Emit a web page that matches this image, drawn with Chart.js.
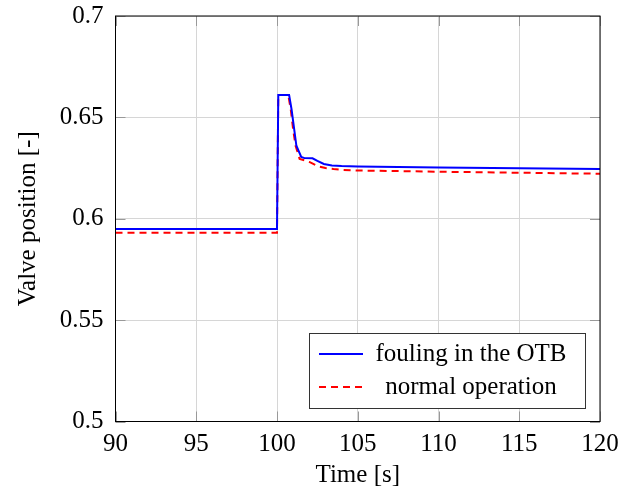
<!DOCTYPE html>
<html>
<head>
    <script src="https://cdn.jsdelivr.net/npm/chart.js"></script>
    <style>
        body { margin: 0; background: #fff; }
        #valveChart { display: block; }
    </style>
</head>
<body>
    <canvas id="valveChart" width="636" height="495"></canvas>
    <script>
        // datos
        const foulingT = [90, 100, 100.08, 100.75, 100.9, 101.0, 101.2, 101.5, 101.7, 102.2, 102.5, 102.9, 103.4, 104, 105, 110, 115, 120];
        const foulingY = [0.5949, 0.5949, 0.661, 0.661, 0.654, 0.648, 0.636, 0.6305, 0.6299, 0.6298, 0.6285, 0.627, 0.6263, 0.626, 0.6258, 0.6253, 0.6249, 0.6245];
        const normalT = [90, 100, 100.08, 100.7, 100.85, 101.0, 101.15, 101.4, 101.7, 102.0, 102.5, 103.0, 103.5, 104, 105, 110, 115, 120];
        const normalY = [0.5931, 0.5931, 0.661, 0.661, 0.654, 0.644, 0.636, 0.6295, 0.6288, 0.628, 0.626, 0.625, 0.6245, 0.6241, 0.6238, 0.6232, 0.6227, 0.6222];
        const seriesNames = ['fouling in the OTB', 'normal operation'];
        const xTickValues = [90, 95, 100, 105, 110, 115, 120];
        const xTickLabels = ['90', '95', '100', '105', '110', '115', '120'];
        const yTickValues = [0.5, 0.55, 0.6, 0.65, 0.7];
        const yTickLabels = ['0.5', '0.55', '0.6', '0.65', '0.7'];

        const serif = "'Liberation Serif', 'Times New Roman', serif";
        const toPoints = (t, y) => t.map((v, i) => ({ x: v, y: y[i] }));

        // marcas interiores de los ticks, caja del eje y leyenda
        const frameAndLegend = {
            id: 'frameAndLegend',
            beforeDatasetsDraw(chart) {
                const c = chart.ctx;
                const a = chart.chartArea;
                const len = 10;
                c.save();
                c.strokeStyle = '#999';
                c.lineWidth = 1;
                c.beginPath();
                chart.scales.x.ticks.forEach(t => {
                    const px = Math.round(chart.scales.x.getPixelForValue(t.value)) + 0.5;
                    c.moveTo(px, a.top); c.lineTo(px, a.top + len);
                    c.moveTo(px, a.bottom); c.lineTo(px, a.bottom - len);
                });
                chart.scales.y.ticks.forEach(t => {
                    const py = Math.round(chart.scales.y.getPixelForValue(t.value)) + 0.5;
                    c.moveTo(a.left, py); c.lineTo(a.left + len, py);
                    c.moveTo(a.right, py); c.lineTo(a.right - len, py);
                });
                c.stroke();
                c.restore();
            },
            afterDraw(chart) {
                const c = chart.ctx;
                const a = chart.chartArea;
                c.save();
                c.strokeStyle = '#000';
                c.lineWidth = 1;
                c.strokeRect(a.left, a.top, a.right - a.left, a.bottom - a.top);

                const bx = 309.5, by = 333.5, bw = 276, bh = 75;
                c.fillStyle = '#fff';
                c.fillRect(bx, by, bw, bh);
                c.strokeStyle = '#333';
                c.strokeRect(bx, by, bw, bh);

                c.font = '25px ' + serif;
                c.fillStyle = '#000';
                c.textAlign = 'center';
                c.textBaseline = 'middle';
                const rows = [354, 387];
                chart.data.datasets.forEach((ds, i) => {
                    c.beginPath();
                    c.strokeStyle = ds.borderColor;
                    c.lineWidth = 2;
                    c.setLineDash(ds.borderDash || []);
                    c.moveTo(319, rows[i]);
                    c.lineTo(363, rows[i]);
                    c.stroke();
                    c.setLineDash([]);
                    c.fillText(ds.label, 471, rows[i]);
                });
                c.restore();
            }
        };

        const chart = new Chart(document.getElementById('valveChart'), {
            type: 'line',
            data: {
                datasets: [
                    {
                        label: seriesNames[0],
                        data: toPoints(foulingT, foulingY),
                        borderColor: '#0000ff',
                        borderWidth: 2,
                        pointRadius: 0,
                        tension: 0
                    },
                    {
                        label: seriesNames[1],
                        data: toPoints(normalT, normalY),
                        borderColor: '#ff0000',
                        borderWidth: 2,
                        borderDash: [7, 5],
                        pointRadius: 0,
                        tension: 0
                    }
                ]
            },
            options: {
                responsive: false,
                animation: false,
                layout: { padding: { top: 16, right: 36, left: 0, bottom: 0 } },
                plugins: {
                    legend: { display: false },
                    tooltip: { enabled: false }
                },
                scales: {
                    x: {
                        type: 'linear',
                        min: 90,
                        max: 120,
                        afterBuildTicks: axis => { axis.ticks = xTickValues.map(v => ({ value: v })); },
                        afterFit: axis => {
                            axis.height = 73.5;
                            axis.paddingLeft = 0;
                            axis.paddingRight = 0;
                        },
                        ticks: {
                            autoSkip: false,
                            maxRotation: 0,
                            padding: 8,
                            color: '#000',
                            font: { family: serif, size: 25 },
                            callback: (v, i) => xTickLabels[i]
                        },
                        grid: { color: '#d6d6d6', drawTicks: false },
                        border: { display: false },
                        title: {
                            display: true,
                            text: 'Time [s]',
                            color: '#000',
                            font: { family: serif, size: 25 },
                            padding: { top: 0, bottom: 5 }
                        }
                    },
                    y: {
                        min: 0.5,
                        max: 0.7,
                        afterBuildTicks: axis => { axis.ticks = yTickValues.map(v => ({ value: v })); },
                        afterFit: axis => {
                            axis.width = 115.5;
                            axis.paddingTop = 0;
                            axis.paddingBottom = 0;
                        },
                        ticks: {
                            autoSkip: false,
                            padding: 12,
                            color: '#000',
                            font: { family: serif, size: 25 },
                            callback: (v, i) => yTickLabels[i]
                        },
                        grid: { color: '#d6d6d6', drawTicks: false },
                        border: { display: false },
                        title: {
                            display: true,
                            text: 'Valve position [-]',
                            color: '#000',
                            font: { family: serif, size: 25 },
                            padding: { top: 13, bottom: 0 }
                        }
                    }
                }
            },
            plugins: [frameAndLegend]
        });
    </script>
</body>
</html>
